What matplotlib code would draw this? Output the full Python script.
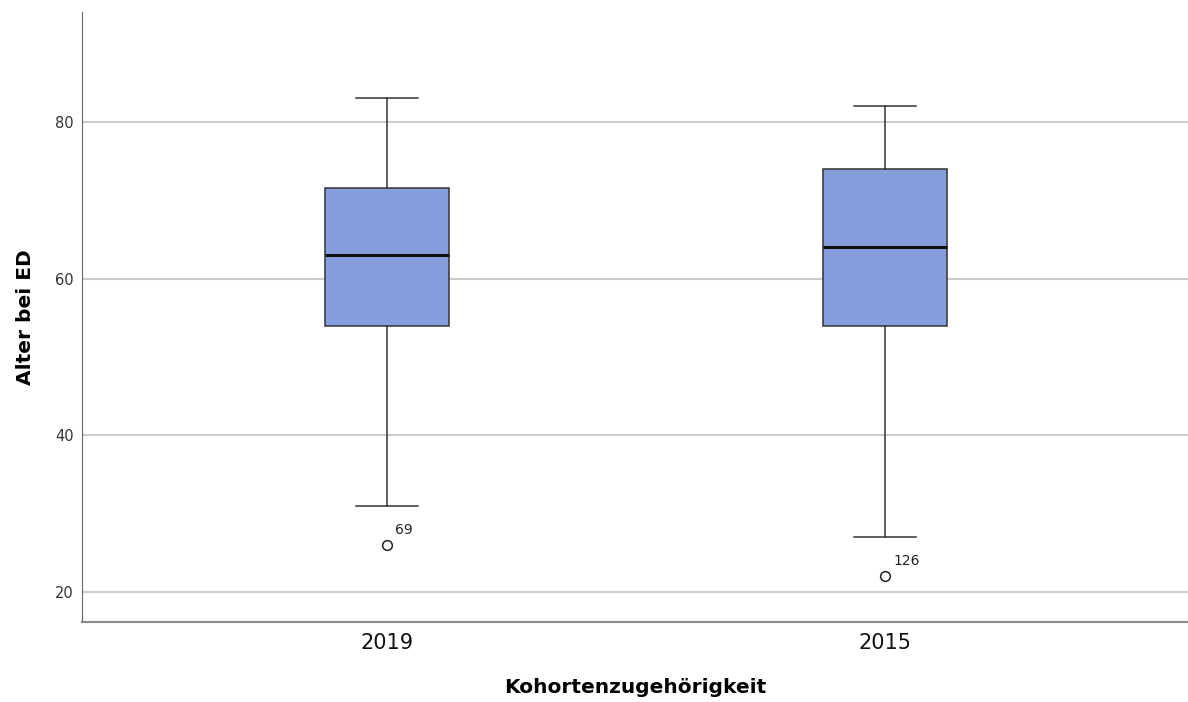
import matplotlib.pyplot as plt

# Altersverteilung bei ED je Kohorte (Kennwerte des Boxplots)
kohorten = ["2019", "2015"]
whisker_lo = [31, 27]
q1 = [54, 54]
median = [63, 64]
q3 = [71.5, 74]
whisker_hi = [83, 82]
ausreisser = [[26], [22]]
ausreisser_id = [["69"], ["126"]]

stats = []
for i, name in enumerate(kohorten):
    stats.append({
        "label": name,
        "whislo": whisker_lo[i],
        "q1": q1[i],
        "med": median[i],
        "q3": q3[i],
        "whishi": whisker_hi[i],
        "fliers": ausreisser[i],
    })

fig = plt.figure(figsize=(11.88, 7.02), dpi=100)
ax = fig.add_axes([0.069, 0.114, 0.931, 0.869])

pos = list(range(len(kohorten)))
ax.bxp(stats, positions=pos, widths=0.25, patch_artist=True,
       boxprops=dict(facecolor="#879EDC", edgecolor="#333333", linewidth=1.1),
       medianprops=dict(color="#111111", linewidth=2.2),
       whiskerprops=dict(color="#333333", linewidth=1.1),
       capprops=dict(color="#333333", linewidth=1.1),
       capwidths=0.125,
       flierprops=dict(marker="o", markersize=7, markerfacecolor="white",
                       markeredgecolor="#222222", markeredgewidth=1.1),
       zorder=3)

for i, p in enumerate(pos):
    for y, lab in zip(ausreisser[i], ausreisser_id[i]):
        ax.annotate(lab, (p, y), xytext=(6, 8), textcoords="offset points",
                    fontsize=10, color="#222222")

ax.set_xlim(-0.612, 1.608)
ax.set_ylim(16.2, 94)
ax.set_yticks([20, 40, 60, 80])
ax.yaxis.grid(True, color="#cccccc", linewidth=1.5, zorder=0)
ax.set_axisbelow(True)
ax.tick_params(axis="both", length=0)
ax.tick_params(axis="y", labelsize=10.5, colors="#333333", pad=6)
ax.tick_params(axis="x", labelsize=15, colors="#111111", pad=8)
ax.set_xticks(pos)
ax.set_xticklabels(kohorten)

for s in ["top", "right"]:
    ax.spines[s].set_visible(False)
ax.spines["left"].set_color("#666666")
ax.spines["bottom"].set_color("#888888")
ax.spines["bottom"].set_linewidth(1.5)

ax.set_xlabel("Kohortenzugehörigkeit", fontsize=14.5, fontweight="bold", labelpad=18)
ax.set_ylabel("Alter bei ED", fontsize=14.5, fontweight="bold", labelpad=14)

fig.savefig("out.png", dpi=100)
